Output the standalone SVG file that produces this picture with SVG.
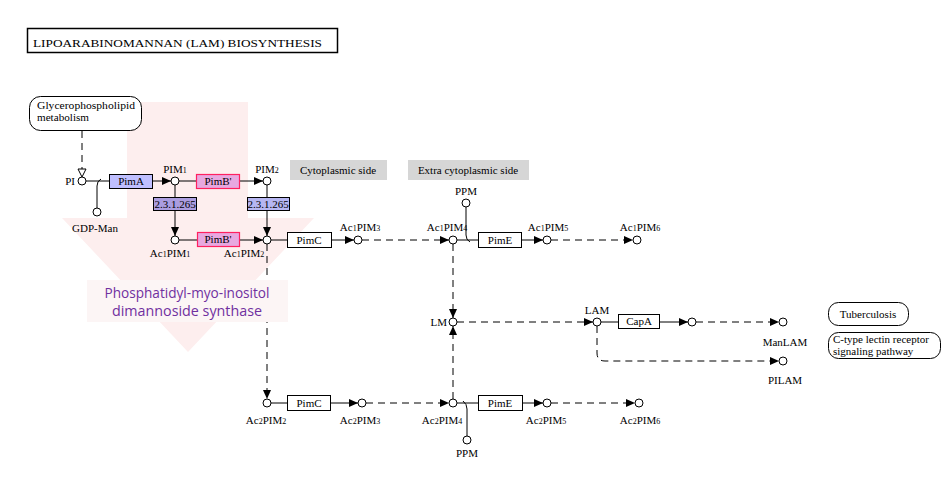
<svg xmlns="http://www.w3.org/2000/svg" width="951" height="483" viewBox="0 0 951 483">
<defs>
<style>
.t{font-family:"Liberation Serif","DejaVu Serif",serif;font-size:11px;fill:#000}
.c{text-anchor:middle}
.s{font-size:8px}
.ln{stroke:#000;stroke-width:1;fill:none}
.d{stroke-dasharray:7 5}
.cpd{fill:#fff;stroke:#000;stroke-width:1}
.box{fill:#fff;stroke:#000;stroke-width:1}
.pa{fill:#bfbfff;stroke:#000;stroke-width:1}
.pb{fill:#e8a8e0;stroke:#ff2060;stroke-width:1.2}
.gr{fill:#d6d6d6}
.map{fill:#fff;stroke:#000;stroke-width:1}
</style>
<marker id="ar" markerUnits="userSpaceOnUse" markerWidth="9" markerHeight="8" refX="9" refY="4" orient="auto">
<path d="M0,0 L9,4 L0,8 z" fill="#000"/>
</marker>
<marker id="oa" markerUnits="userSpaceOnUse" markerWidth="10" markerHeight="10" refX="9" refY="5" orient="auto">
<path d="M1,1 L9,5 L1,9 z" fill="#fff" stroke="#000" stroke-width="1"/>
</marker>
</defs>
<rect width="951" height="483" fill="#fff"/>

<g id="bg-arrow">
<polygon points="127,102 248,102 248,218 314,218 188,352 62,218 127,218" fill="#fdeeee"/>
</g>

<g id="title">
<rect x="27.5" y="28.5" width="310" height="24" fill="#fff" stroke="#000" stroke-width="1.5"/>
<text class="t" x="33" y="46.5" font-size="15" textLength="289" lengthAdjust="spacingAndGlyphs">LIPOARABINOMANNAN (LAM) BIOSYNTHESIS</text>
</g>

<g id="connectors">
<path class="ln d" d="M82,131 V177" marker-end="url(#oa)"/>
<path class="ln" d="M86,181 H109"/>
<path class="ln" d="M97,208 V186 Q97,181 101,179"/>
<path class="ln" d="M153,181 H171" marker-end="url(#ar)"/>
<path class="ln" d="M179,181 H196"/>
<path class="ln" d="M240,181 H263" marker-end="url(#ar)"/>
<path class="ln" d="M175,185 V197"/>
<path class="ln" d="M175,211 V236" marker-end="url(#ar)"/>
<path class="ln" d="M267,185 V197"/>
<path class="ln" d="M267,211 V236" marker-end="url(#ar)"/>
<path class="ln" d="M179,240 H197"/>
<path class="ln" d="M240,240 H263" marker-end="url(#ar)"/>
<path class="ln" d="M271,240 H287"/>
<path class="ln" d="M332,240 H354" marker-end="url(#ar)"/>
<path class="ln d" d="M362,240 H449" marker-end="url(#ar)"/>
<path class="ln" d="M457,240 H478"/>
<path class="ln" d="M466,207 V235 Q466,240 470,242"/>
<path class="ln" d="M521,240 H543" marker-end="url(#ar)"/>
<path class="ln d" d="M551,240 H633" marker-end="url(#ar)"/>
<path class="ln d" d="M453,244 V318" marker-end="url(#ar)"/>
<path class="ln d" d="M453,399 V326" marker-end="url(#ar)"/>
<path class="ln d" d="M457,322 H593" marker-end="url(#ar)"/>
<path class="ln" d="M601,322 H618"/>
<path class="ln" d="M660,322 H688" marker-end="url(#ar)"/>
<path class="ln d" d="M696,322 H779" marker-end="url(#ar)"/>
<path class="ln d" d="M597,326 V353 Q597,361 605,361 H779" marker-end="url(#ar)"/>
<path class="ln d" d="M267,244 V399" marker-end="url(#ar)"/>
<path class="ln" d="M271,403 H287"/>
<path class="ln" d="M331,403 H358" marker-end="url(#ar)"/>
<path class="ln d" d="M366,403 H449" marker-end="url(#ar)"/>
<path class="ln" d="M457,403 H478"/>
<path class="ln" d="M467,436 V409 Q467,404 463,401"/>
<path class="ln" d="M523,403 H543" marker-end="url(#ar)"/>
<path class="ln d" d="M551,403 H635" marker-end="url(#ar)"/>
</g>

<g id="glycerophospholipid">
<rect class="map" x="29.5" y="96.5" width="112" height="34" rx="11"/>
<text class="t" x="37" y="109" font-size="10" textLength="98" lengthAdjust="spacingAndGlyphs">Glycerophospholipid</text>
<text class="t" x="37" y="121" font-size="10" textLength="52" lengthAdjust="spacingAndGlyphs">metabolism</text>
</g>

<g id="PI"><circle class="cpd" cx="82" cy="181" r="4"/><text class="t" x="75" y="185" text-anchor="end">PI</text></g>
<g id="GDP-Man"><circle class="cpd" cx="97" cy="212" r="4"/><text class="t c" x="95" y="232">GDP-Man</text></g>
<g id="PimA"><rect class="pa" x="109.5" y="174.5" width="43" height="14"/><text class="t c" x="131" y="185">PimA</text></g>
<g id="PIM1"><circle class="cpd" cx="175" cy="181" r="4"/><text class="t c" x="175" y="173">PIM<tspan class="s">1</tspan></text></g>
<g id="PimB1"><rect class="pb" x="196.5" y="174.5" width="43" height="14"/><text class="t c" x="218" y="185" fill="#e8205a">PimB'</text></g>
<g id="PIM2"><circle class="cpd" cx="267" cy="181" r="4"/><text class="t c" x="267" y="173">PIM<tspan class="s">2</tspan></text></g>
<g id="EC1"><rect x="153.5" y="197.5" width="43" height="13" fill="#ab9de0" stroke="#000"/><text class="t c" x="175" y="208" font-size="10.5">2.3.1.265</text></g>
<g id="EC2"><rect x="247.5" y="197.5" width="42" height="13" fill="#b6b6f2" stroke="#000"/><text class="t c" x="268" y="208" font-size="10.5">2.3.1.265</text></g>
<g id="Ac1PIM1"><circle class="cpd" cx="175" cy="240" r="4"/><text class="t c" x="170" y="257">Ac<tspan class="s">1</tspan>PIM<tspan class="s">1</tspan></text></g>
<g id="PimB2"><rect class="pb" x="197.5" y="232.5" width="42" height="14"/><text class="t c" x="218" y="243" fill="#e8205a">PimB'</text></g>
<g id="Ac1PIM2"><circle class="cpd" cx="267" cy="240" r="4"/><text class="t c" x="244" y="257">Ac<tspan class="s">1</tspan>PIM<tspan class="s">2</tspan></text></g>
<g id="PimC1"><rect class="box" x="287.5" y="232.5" width="44" height="15"/><text class="t c" x="309" y="244">PimC</text></g>
<g id="Ac1PIM3"><circle class="cpd" cx="358" cy="240" r="4"/><text class="t c" x="360" y="231">Ac<tspan class="s">1</tspan>PIM<tspan class="s">3</tspan></text></g>
<g id="cytoplasmic"><rect class="gr" x="290" y="160" width="97" height="20"/><text class="t c" x="338" y="174">Cytoplasmic side</text></g>
<g id="extracytoplasmic"><rect class="gr" x="408" y="160" width="121" height="20"/><text class="t c" x="468" y="174">Extra cytoplasmic side</text></g>
<g id="PPM1"><circle class="cpd" cx="466" cy="203" r="4"/><text class="t c" x="466" y="195">PPM</text></g>
<g id="Ac1PIM4"><circle class="cpd" cx="453" cy="240" r="4"/><text class="t c" x="447" y="231">Ac<tspan class="s">1</tspan>PIM<tspan class="s">4</tspan></text></g>
<g id="PimE1"><rect class="box" x="478.5" y="232.5" width="43" height="15"/><text class="t c" x="500" y="244">PimE</text></g>
<g id="Ac1PIM5"><circle class="cpd" cx="547" cy="240" r="4"/><text class="t c" x="548" y="231">Ac<tspan class="s">1</tspan>PIM<tspan class="s">5</tspan></text></g>
<g id="Ac1PIM6"><circle class="cpd" cx="637" cy="240" r="4"/><text class="t c" x="640" y="231">Ac<tspan class="s">1</tspan>PIM<tspan class="s">6</tspan></text></g>
<g id="LM"><circle class="cpd" cx="453" cy="322" r="4"/><text class="t" x="447" y="326" text-anchor="end">LM</text></g>
<g id="LAM"><circle class="cpd" cx="597" cy="322" r="4"/><text class="t c" x="597" y="314">LAM</text></g>
<g id="CapA"><rect class="box" x="618.5" y="314.5" width="41" height="14"/><text class="t c" x="639" y="325">CapA</text></g>
<g id="capA-product"><circle class="cpd" cx="692" cy="322" r="4"/></g>
<g id="ManLAM"><circle class="cpd" cx="783" cy="322" r="4"/><text class="t c" x="785" y="346">ManLAM</text></g>
<g id="PILAM"><circle class="cpd" cx="783" cy="361" r="4"/><text class="t c" x="785" y="384">PILAM</text></g>
<g id="tuberculosis"><rect class="map" x="828.5" y="302.5" width="80" height="23" rx="10"/><text class="t c" x="868" y="318">Tuberculosis</text></g>
<g id="ctype"><rect class="map" x="828.5" y="332.5" width="112" height="26" rx="10"/><text class="t" x="833" y="343" font-size="10">C-type lectin receptor</text><text class="t" x="833" y="355" font-size="10">signaling pathway</text></g>
<g id="Ac2PIM2"><circle class="cpd" cx="267" cy="403" r="4"/><text class="t c" x="266" y="424">Ac<tspan class="s">2</tspan>PIM<tspan class="s">2</tspan></text></g>
<g id="PimC2"><rect class="box" x="287.5" y="395.5" width="43" height="15"/><text class="t c" x="309" y="407">PimC</text></g>
<g id="Ac2PIM3"><circle class="cpd" cx="362" cy="403" r="4"/><text class="t c" x="360" y="424">Ac<tspan class="s">2</tspan>PIM<tspan class="s">3</tspan></text></g>
<g id="Ac2PIM4"><circle class="cpd" cx="453" cy="403" r="4"/><text class="t c" x="442" y="424">Ac<tspan class="s">2</tspan>PIM<tspan class="s">4</tspan></text></g>
<g id="PimE2"><rect class="box" x="478.5" y="395.5" width="44" height="15"/><text class="t c" x="500" y="407">PimE</text></g>
<g id="Ac2PIM5"><circle class="cpd" cx="547" cy="403" r="4"/><text class="t c" x="546" y="424">Ac<tspan class="s">2</tspan>PIM<tspan class="s">5</tspan></text></g>
<g id="Ac2PIM6"><circle class="cpd" cx="639" cy="403" r="4"/><text class="t c" x="640" y="424">Ac<tspan class="s">2</tspan>PIM<tspan class="s">6</tspan></text></g>
<g id="PPM2"><circle class="cpd" cx="467" cy="440" r="4"/><text class="t c" x="467" y="457">PPM</text></g>

<g id="annotation">
<rect x="87" y="280" width="201" height="42" fill="#fcf5f5"/>
<text x="187" y="298" text-anchor="middle" font-family="'Open Sans','Noto Sans',sans-serif" font-size="14.5" fill="#7030a0" textLength="165" lengthAdjust="spacingAndGlyphs">Phosphatidyl-myo-inositol</text>
<text x="187" y="316" text-anchor="middle" font-family="'Open Sans','Noto Sans',sans-serif" font-size="14.5" fill="#7030a0" textLength="150" lengthAdjust="spacingAndGlyphs">dimannoside synthase</text>
</g>
</svg>
